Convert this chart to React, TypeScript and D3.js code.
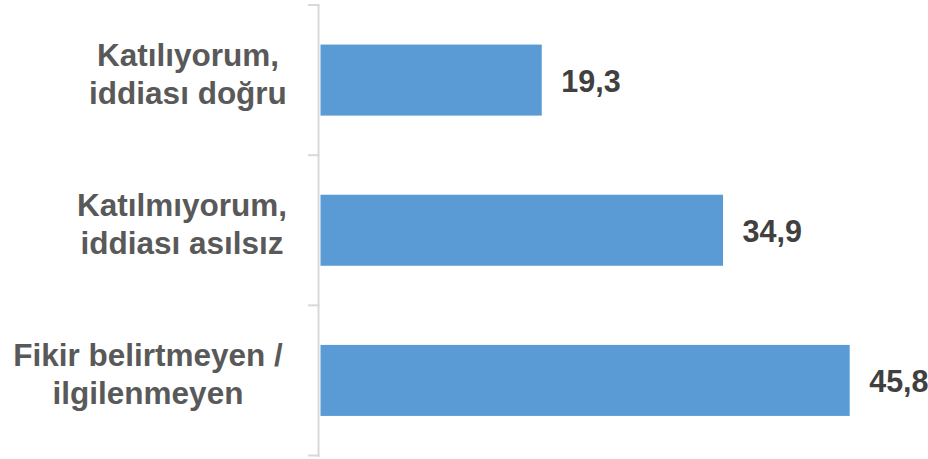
import React from "react";
import * as d3 from "d3";

const categories: string[][] = [
  ["Katılıyorum,", "iddiası doğru"],
  ["Katılmıyorum,", "iddiası asılsız"],
  ["Fikir belirtmeyen /", "ilgilenmeyen"],
];
const values: number[] = [19.3, 34.9, 45.8];
const valueLabels: string[] = ["19,3", "34,9", "45,8"];
const labelCenters: number[] = [188, 182, 148];

const W = 928;
const H = 459;

export default function App() {
  const keys = categories.map((_, i) => String(i));
  const y = d3
    .scaleBand<string>()
    .domain(keys)
    .range([5, 455.5])
    .paddingInner(0.527)
    .paddingOuter(0.2635);
  const x = d3.scaleLinear().domain([0, 50]).range([317.5, 898.5]);
  const step = y.step();
  const tickYs = d3.range(keys.length + 1).map((i) => 5 + i * step);
  const font = "'Liberation Sans', Arial, sans-serif";

  return (
    <svg
      width={W}
      height={H}
      style={{ position: "absolute", left: 0, top: 0, display: "block", background: "#fff" }}
    >
      {values.map((v, i) => {
        const y0 = y(String(i))!;
        const cy = y0 + y.bandwidth() / 2;
        return (
          <g key={i}>
            <rect
              x={x(0) + 3}
              y={y0}
              width={x(v) - x(0) - 3}
              height={y.bandwidth()}
              fill="#5B9BD5"
            />
            <text
              x={x(v) + 19.5}
              y={cy + 11.5}
              fontFamily={font}
              fontWeight="bold"
              fontSize={30.5}
              fill="#404040"
            >
              {valueLabels[i]}
            </text>
            <text
              textAnchor="middle"
              fontFamily={font}
              fontWeight="bold"
              fontSize={31.5}
              fill="#595959"
            >
              <tspan x={labelCenters[i]} y={cy - 14}>
                {categories[i][0]}
              </tspan>
              <tspan x={labelCenters[i]} y={cy + 24}>
                {categories[i][1]}
              </tspan>
            </text>
          </g>
        );
      })}
      <line x1={318.5} x2={318.5} y1={4} y2={457} stroke="#D9D9D9" strokeWidth={2} />
      {tickYs.map((t, i) => (
        <line key={i} x1={308} x2={319.5} y1={t} y2={t} stroke="#D9D9D9" strokeWidth={2} />
      ))}
    </svg>
  );
}
